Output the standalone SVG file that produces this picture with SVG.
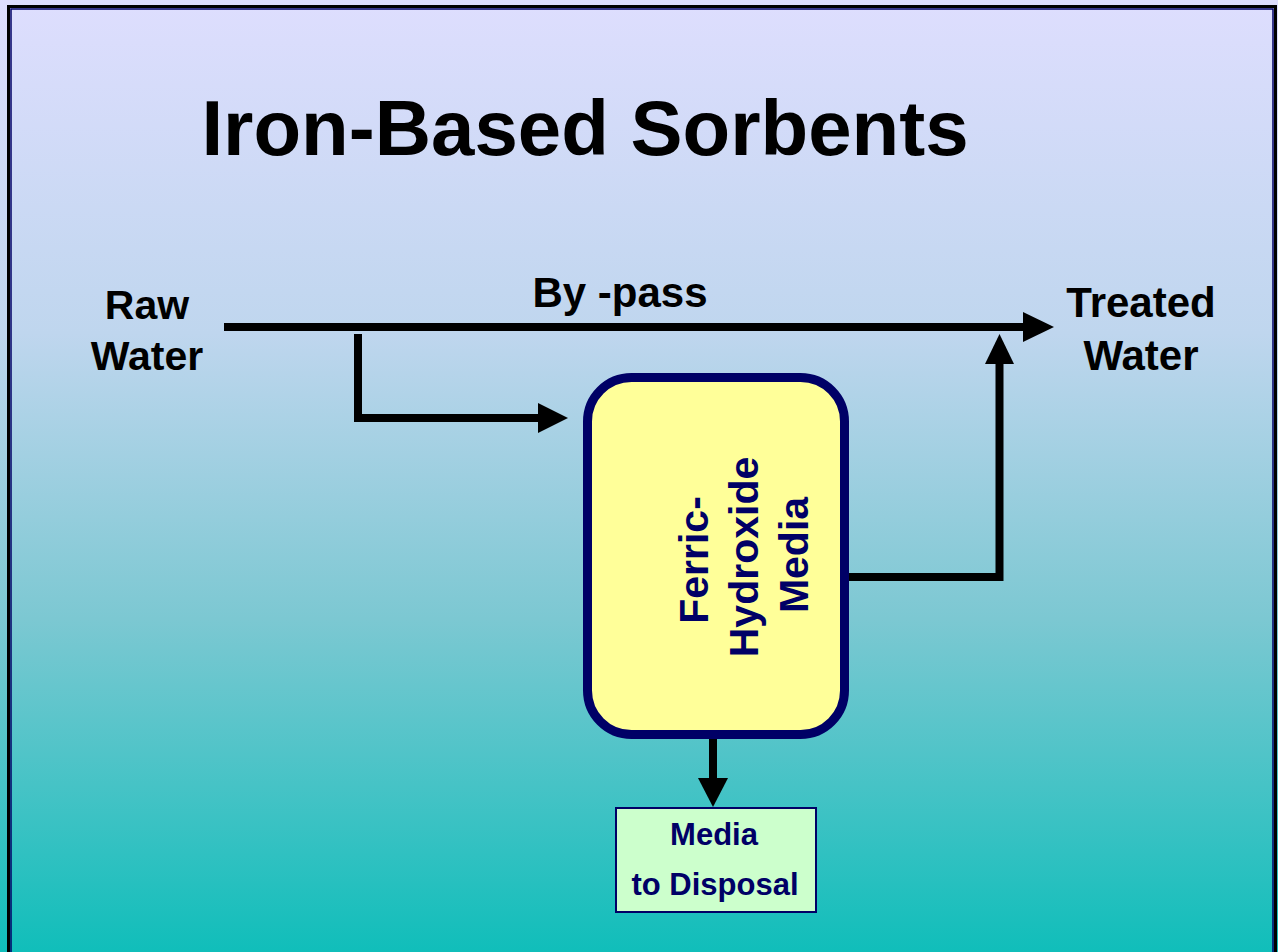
<svg xmlns="http://www.w3.org/2000/svg" width="1278" height="952" viewBox="0 0 1278 952">
<defs>
<linearGradient id="bg" x1="0" y1="0" x2="0" y2="1">
<stop offset="0" stop-color="#DEDEFE"/>
<stop offset="0.35" stop-color="#BFD6EE"/>
<stop offset="0.65" stop-color="#7CC8D2"/>
<stop offset="1" stop-color="#10BEBA"/>
</linearGradient>
<style>
.lbl{font-family:"Liberation Sans",Arial,sans-serif;font-weight:bold;fill:#000;text-anchor:middle}
.nv{font-family:"Liberation Sans",Arial,sans-serif;font-weight:bold;fill:#000066;text-anchor:middle}
.ln{fill:none;stroke:#000;stroke-width:8}
.hd{fill:#000}
</style>
</defs>
<rect x="0" y="0" width="1278" height="952" fill="url(#bg)"/>
<rect x="8.5" y="6.5" width="1267" height="960" fill="none" stroke="#000" stroke-width="3"/>
<rect x="11" y="9" width="1262" height="960" fill="none" stroke="#000066" stroke-width="1.5"/>

<text class="lbl" x="585" y="155" font-size="78">Iron-Based Sorbents</text>

<g id="raw-water">
<text class="lbl" x="147" y="319" font-size="41">Raw</text>
<text class="lbl" x="147" y="370" font-size="41">Water</text>
</g>
<g id="bypass-label">
<text class="lbl" x="620" y="307" font-size="42">By -pass</text>
</g>
<g id="treated-water">
<text class="lbl" x="1141" y="317" font-size="42">Treated</text>
<text class="lbl" x="1141" y="370" font-size="42">Water</text>
</g>

<g id="connectors">
<path class="ln" d="M224,327 H1025"/>
<polygon class="hd" points="1023,312 1054,327 1023,342"/>
<path class="ln" d="M358,334 V418 H540"/>
<polygon class="hd" points="538,403 568,418 538,433"/>
<path class="ln" d="M849,577 H999.5 V361"/>
<polygon class="hd" points="985,364 999.5,334 1014,364"/>
<path class="ln" d="M713,739 V780"/>
<polygon class="hd" points="698,778 713,807 728,778"/>
</g>

<g id="ferric-hydroxide-media">
<rect x="587.5" y="377.5" width="257" height="357" rx="44" ry="44" fill="#FFFF99" stroke="#000066" stroke-width="9"/>
<g transform="rotate(-90 0 0)">
<text class="nv" x="-560" y="708" font-size="41">Ferric-</text>
<text class="nv" x="-557" y="758" font-size="41">Hydroxide</text>
<text class="nv" x="-555" y="808" font-size="41">Media</text>
</g>
</g>

<g id="media-disposal">
<rect x="616" y="808" width="200" height="104" fill="#CCFFCC" stroke="#000066" stroke-width="2"/>
<text class="nv" x="714" y="845" font-size="31">Media</text>
<text class="nv" x="715" y="895" font-size="31">to Disposal</text>
</g>
</svg>
